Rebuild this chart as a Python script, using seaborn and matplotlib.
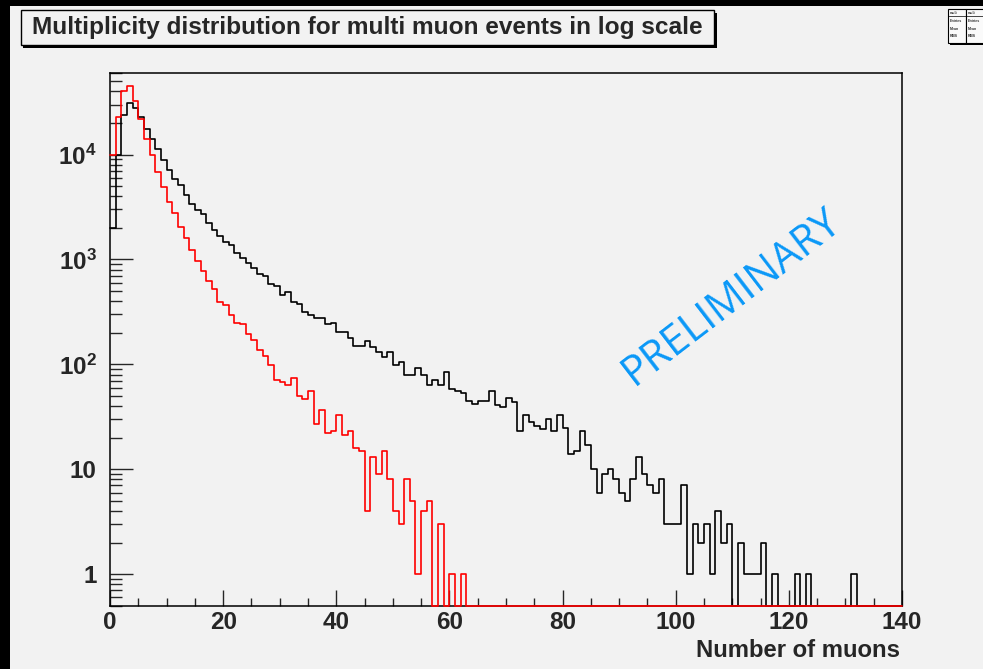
import numpy as np
import pandas as pd
import matplotlib
matplotlib.use("Agg")
import matplotlib.pyplot as plt
import seaborn as sns
from matplotlib.patches import Rectangle
from matplotlib.ticker import FixedLocator, MultipleLocator, LogLocator, NullFormatter

# ---------------------------------------------------------------- data
title_text = "Multiplicity distribution for multi muon events in log scale"
x_label = "Number of muons"
watermark = "PRELIMINARY"

bin_edges = list(range(0, 141))          # 140 unit-width bins, 0 .. 140

# events per muon multiplicity, wide selection (black)
black_counts = [
    2000, 10000, 23700, 31300, 28000, 22800, 17700, 14200, 11200, 8960,
    7190, 5900, 5100, 4100, 3410, 2990, 2700, 2230, 1930, 1670,
    1470, 1370, 1160, 1040, 916, 830, 724, 698, 578, 561,
    457, 485, 395, 375, 313, 295, 274, 274, 240, 249,
    204, 204, 178, 150, 150, 168, 145, 132, 117, 132,
    98, 106, 79, 79, 92, 79, 64, 71, 64, 85,
    58, 56, 53, 45, 42, 45, 45, 56, 41, 39,
    48, 44, 23, 33, 28, 26, 24, 30, 23, 33,
    25, 14, 15, 23, 17, 10, 6, 9, 10, 8,
    6, 5, 8, 13, 9, 7, 6, 8, 3, 3,
    3, 7, 1, 3, 2, 3, 1, 4, 2, 3,
    0, 2, 1, 1, 1, 2, 0, 1, 0, 0,
    0, 1, 0, 1, 0, 0, 0, 0, 0, 0,
    0, 1, 0, 0, 0, 0, 0, 0, 0, 0,
]

# events per muon multiplicity, narrow selection (red)
red_counts = [
    9850, 22800, 40500, 44700, 32600, 22000, 14200, 9850, 6900, 4900,
    3540, 2780, 2040, 1590, 1230, 960, 775, 625, 518, 389,
    367, 295, 249, 242, 193, 170, 137, 120, 98, 71,
    68, 63, 74, 50, 47, 56, 27, 37, 22, 23,
    33, 21, 23, 16, 15, 4, 13, 9, 15, 8,
    4, 3, 8, 5, 1, 4, 5, 0, 3, 0,
    1, 0, 1, 0, 0, 0, 0, 0, 0, 0,
    0, 0, 0, 0, 0, 0, 0, 0, 0, 0,
    0, 0, 0, 0, 0, 0, 0, 0, 0, 0,
    0, 0, 0, 0, 0, 0, 0, 0, 0, 0,
    0, 0, 0, 0, 0, 0, 0, 0, 0, 0,
    0, 0, 0, 0, 0, 0, 0, 0, 0, 0,
    0, 0, 0, 0, 0, 0, 0, 0, 0, 0,
    0, 0, 0, 0, 0, 0, 0, 0, 0, 0,
]

x_ticks = [0, 20, 40, 60, 80, 100, 120, 140]
y_ticks = [1, 10, 100, 1000, 10000]
y_tick_labels = ["1", "10", r"$\mathbf{10^{2}}$", r"$\mathbf{10^{3}}$", r"$\mathbf{10^{4}}$"]
y_range = (0.5, 6.0e4)
x_range = (0, 140)

# ---------------------------------------------------------------- style
W, H = 983, 669
CANVAS = "#f2f2f2"
LABEL_SIZE = 17.5

sns.set_style("ticks")
plt.rcParams.update({
    "font.family": ["Liberation Sans", "DejaVu Sans"],
    "font.weight": "bold",
    "mathtext.fontset": "custom",
    "mathtext.rm": "Liberation Sans:bold",
    "mathtext.bf": "Liberation Sans:bold",
    "mathtext.it": "Liberation Sans:bold",
    "axes.linewidth": 1.1,
    "axes.edgecolor": "black",
})


def fx(px):
    return px / W


def fy(py):
    return 1.0 - py / H


fig = plt.figure(figsize=(W / 100, H / 100), dpi=100, facecolor="black")
fig.add_artist(Rectangle((fx(10), 0), 1 - fx(10), fy(6), transform=fig.transFigure,
                         facecolor=CANVAS, edgecolor="none", zorder=-10))

ax = fig.add_axes([fx(110), fy(605.7), fx(902) - fx(110), fy(73) - fy(605.7)])
ax.set_facecolor(CANVAS)


def step_frame(counts):
    vals = np.clip(np.asarray(counts, dtype=float), y_range[0], None)
    return pd.DataFrame({"muons": bin_edges, "events": np.append(vals, vals[-1])})


sns.lineplot(data=step_frame(black_counts), x="muons", y="events", drawstyle="steps-post",
             estimator=None, sort=False, color="black", lw=1.2, ax=ax, clip_on=False, zorder=3)
sns.lineplot(data=step_frame(red_counts), x="muons", y="events", drawstyle="steps-post",
             estimator=None, sort=False, color="#ff0000", lw=1.2, ax=ax, clip_on=False, zorder=4)

ax.set_yscale("log")
ax.set_xlim(*x_range)
ax.set_ylim(*y_range)
ax.set_xlabel("")
ax.set_ylabel("")

for side in ("top", "right", "bottom", "left"):
    ax.spines[side].set_visible(True)
    ax.spines[side].set_linewidth(1.1)

ax.xaxis.set_major_locator(FixedLocator(x_ticks))
ax.xaxis.set_minor_locator(MultipleLocator(5))
ax.set_xticklabels([str(t) for t in x_ticks])
ax.yaxis.set_major_locator(FixedLocator(y_ticks))
ax.set_yticklabels(y_tick_labels)
ax.yaxis.set_minor_locator(LogLocator(base=10, subs=np.arange(2, 10), numticks=30))
ax.yaxis.set_minor_formatter(NullFormatter())

ax.tick_params(axis="x", which="major", direction="in", length=11.5, width=1.0,
               top=False, labelsize=LABEL_SIZE, pad=4)
ax.tick_params(axis="x", which="minor", direction="in", length=5.8, width=1.0, top=False)
ax.tick_params(axis="y", which="major", direction="in", length=16.5, width=1.0,
               right=False, labelsize=LABEL_SIZE, pad=9.5)
ax.tick_params(axis="y", which="minor", direction="in", length=8.6, width=1.0, right=False)
for lab in ax.get_xticklabels() + ax.get_yticklabels():
    lab.set_fontweight("bold")

fig.text(fx(900), fy(657), x_label, ha="right", va="baseline", fontsize=17.2, weight="bold")

# title box with drop shadow
fig.add_artist(Rectangle((fx(23), fy(47.5)), fx(716) - fx(22.5), fy(12.5) - fy(47.5),
                         transform=fig.transFigure, facecolor="black", edgecolor="none", zorder=5))
fig.add_artist(Rectangle((fx(20.7), fy(45)), fx(714) - fx(20.7), fy(10) - fy(45),
                         transform=fig.transFigure, facecolor=CANVAS, edgecolor="black",
                         lw=1.0, zorder=6))
fig.text(fx(31.5), fy(27.5), title_text, ha="left", va="center", fontsize=17.6,
         weight="bold", zorder=7)

# small statistics boxes in the corner
fig.add_artist(Rectangle((fx(949.5), fy(44.5)), fx(983) - fx(949.5), fy(11) - fy(44.5),
                         transform=fig.transFigure, facecolor="black", edgecolor="none", zorder=5))
for left in (948, 966):
    fig.add_artist(Rectangle((fx(left), fy(42.7)), fx(18), fy(9.3) - fy(42.7),
                             transform=fig.transFigure, facecolor="#fafafa", edgecolor="black",
                             lw=0.8, zorder=6))
    fig.add_artist(plt.Line2D([fx(left), fx(left + 18)], [fy(15.5), fy(15.5)],
                              transform=fig.transFigure, color="black", lw=0.5, zorder=7))
    for row, entry in zip((12.5, 21, 28.5, 36), ("mult", "Entries", "Mean", "RMS")):
        fig.text(fx(left + 1.5), fy(row), entry, fontsize=2.6, ha="left", va="center",
                 color="#333333", weight="bold", zorder=8)

# watermark
fig.text(fx(732), fy(297), watermark, rotation=37.5, rotation_mode="anchor",
         ha="center", va="center", fontsize=30, color="#0a98f8",
         family=["Open Sans", "DejaVu Sans"], weight="normal", zorder=8)

fig.savefig("out.png", dpi=100, facecolor=fig.get_facecolor())
